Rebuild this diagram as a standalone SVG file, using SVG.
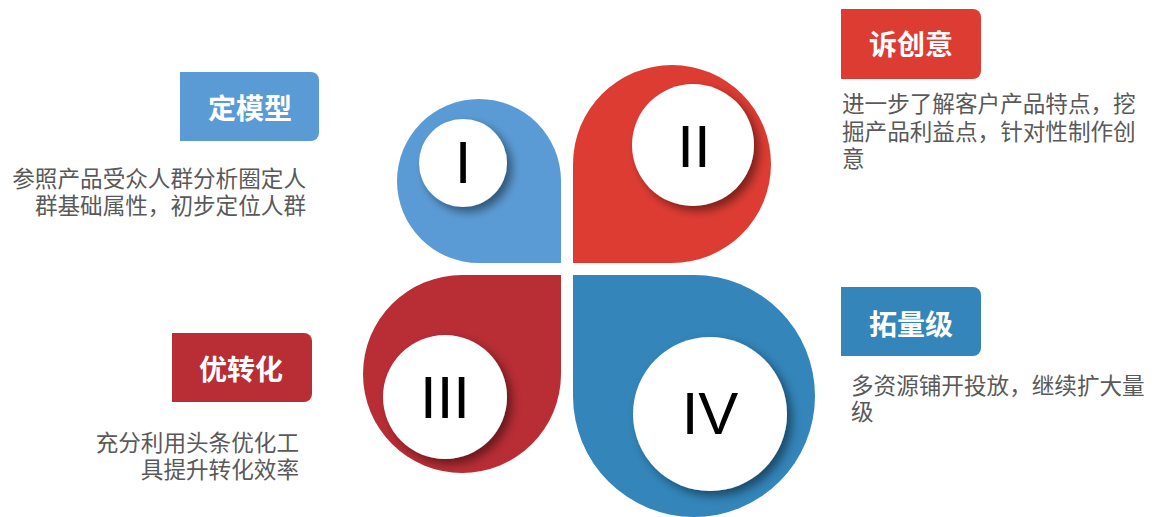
<svg xmlns="http://www.w3.org/2000/svg" width="1162" height="517" viewBox="0 0 1162 517">
<style>
.num{font-family:"Liberation Sans",Arial,sans-serif;font-size:60px;fill:#000;text-anchor:middle}
.lbl{font-family:"Noto Sans CJK SC","Noto Sans",sans-serif;font-size:28px;font-weight:bold;fill:#fff;text-anchor:middle}
.desc{font-family:"Noto Sans CJK SC","Noto Sans",sans-serif;font-size:22.6px;fill:#595959}
.ball{fill:#fff;filter:url(#sh)}
</style>
<defs>
<filter id="sh" x="-30%" y="-30%" width="170%" height="170%">
<feDropShadow dx="5" dy="5" stdDeviation="5" flood-color="#000" flood-opacity="0.45"/>
</filter>
</defs>
<g id="petal-1">
<path d="M 561 263 L 479 263 A 82 82 0 1 1 561 181 Z" fill="#5B9BD5"/>
<circle class="ball" cx="463" cy="163" r="44"/>
<text class="num" x="463" y="183">I</text>
</g>
<g id="petal-2">
<path d="M 573 263 L 573 164 A 99 99 0 1 1 672 263 Z" fill="#DD3C33"/>
<circle class="ball" cx="693" cy="145" r="61"/>
<text class="num" x="694" y="167">II</text>
</g>
<g id="petal-3">
<path d="M 561 275 L 561 374 A 99 99 0 1 1 462 275 Z" fill="#B92D35"/>
<circle class="ball" cx="445" cy="397" r="62"/>
<text class="num" x="445" y="418">III</text>
</g>
<g id="petal-4">
<path d="M 573 275 L 694 275 A 121 121 0 1 1 573 396 Z" fill="#3385BA"/>
<circle class="ball" cx="710" cy="414" r="77"/>
<text class="num" x="710" y="434">IV</text>
</g>
<g id="label-1">
<path d="M 180 72 H 311 A 8 8 0 0 1 319 80 V 133 A 8 8 0 0 1 311 141 H 180 Z" fill="#5B9BD5"/>
<text class="lbl" x="250" y="119">定模型</text>
<text class="desc" x="306" y="187" text-anchor="end">参照产品受众人群分析圈定人</text>
<text class="desc" x="306" y="214" text-anchor="end">群基础属性，初步定位人群</text>
</g>
<g id="label-2">
<path d="M 841 9 H 973 A 8 8 0 0 1 981 17 V 71 A 8 8 0 0 1 973 79 H 841 Z" fill="#DD3C33"/>
<text class="lbl" x="911" y="55">诉创意</text>
<text class="desc" x="842" y="112">进一步了解客户产品特点，挖</text>
<text class="desc" x="842" y="140">掘产品利益点，针对性制作创</text>
<text class="desc" x="842" y="167">意</text>
</g>
<g id="label-3">
<path d="M 172 333 H 304 A 8 8 0 0 1 312 341 V 394 A 8 8 0 0 1 304 402 H 172 Z" fill="#B92D35"/>
<text class="lbl" x="241" y="380">优转化</text>
<text class="desc" x="299" y="451" text-anchor="end">充分利用头条优化工</text>
<text class="desc" x="299" y="478" text-anchor="end">具提升转化效率</text>
</g>
<g id="label-4">
<path d="M 841 287 H 973 A 8 8 0 0 1 981 295 V 348 A 8 8 0 0 1 973 356 H 841 Z" fill="#3385BA"/>
<text class="lbl" x="911" y="335">拓量级</text>
<text class="desc" x="851" y="394">多资源铺开投放，继续扩大量</text>
<text class="desc" x="851" y="420">级</text>
</g>
<g id="connectors"></g>
</svg>
